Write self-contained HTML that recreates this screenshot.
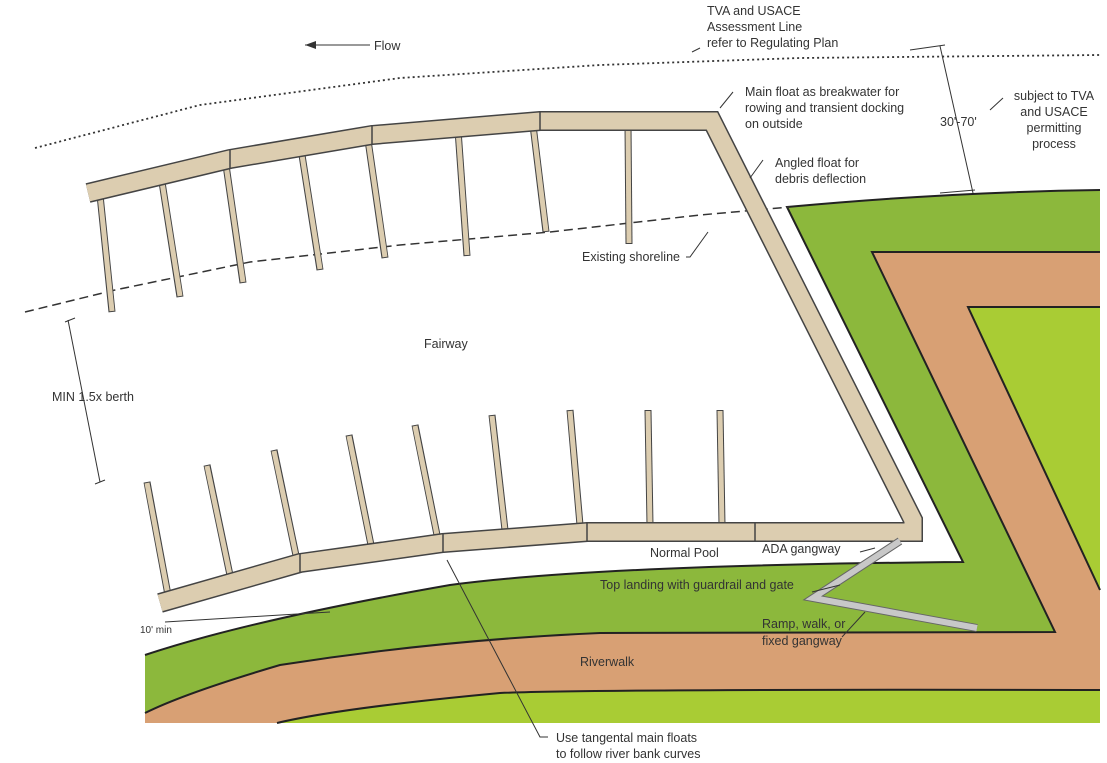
<!DOCTYPE html>
<html><head><meta charset="utf-8"><style>
html,body{margin:0;padding:0;background:#fff}
svg{display:block}
text{font-family:"Liberation Sans",sans-serif;font-size:12.5px;fill:#333}
</style></head><body>
<svg width="1107" height="763" viewBox="0 0 1107 763">
<!-- land fills -->
<path d="M787,207 Q950,192 1100,190 L1100,723 L145,723 L145,655 Q250,620 450,585 Q600,565 963,562 Z" fill="#8cb83c"/>
<path d="M872,252 L1100,252 L1100,723 L145,723 L145,713 Q185,693 280,665 Q440,640 600,633 L1055,632 Z" fill="#d8a074"/>
<path d="M968,307 L1100,307 L1100,590 Z" fill="#a9cc34"/>
<path d="M277,723 Q340,708 500,693 Q600,689 1100,690 L1100,723 Z" fill="#a9cc34"/>
<!-- land edges -->
<g fill="none" stroke="#222" stroke-width="2">
<path d="M1100,190 Q950,192 787,207 L963,562 Q600,565 450,585 Q250,620 145,655"/>
<path d="M1100,252 L872,252 L1055,632 L600,633 Q440,640 280,665 Q185,693 145,713"/>
<path d="M1100,307 L968,307 L1100,590"/>
<path d="M277,723 Q340,708 500,693 Q600,689 1100,690"/>
</g>
<rect x="0" y="724" width="1107" height="40" fill="#fff"/>
<!-- shorelines -->
<polyline points="35,148 200,105 400,78 600,65 800,58 1100,55" fill="none" stroke="#333" stroke-width="1.8" stroke-dasharray="2,3"/>
<polyline points="25,312 115,290 250,262 400,245 550,232 700,215 790,207" fill="none" stroke="#333" stroke-width="1.5" stroke-dasharray="9,5"/>
<!-- fingers -->
<g stroke="#444" stroke-width="7" stroke-linecap="butt">
<line x1="100" y1="195" x2="112" y2="312"/><line x1="162" y1="182" x2="180" y2="297"/><line x1="226" y1="165" x2="243" y2="283"/>
<line x1="302" y1="155" x2="320" y2="270"/><line x1="368" y1="140" x2="385" y2="258"/><line x1="458" y1="130" x2="467" y2="256"/>
<line x1="533" y1="125" x2="546" y2="232"/><line x1="628" y1="125" x2="629" y2="244"/>
<line x1="147" y1="482" x2="168" y2="595"/><line x1="207" y1="465" x2="231" y2="580"/><line x1="274" y1="450" x2="298" y2="565"/>
<line x1="349" y1="435" x2="372" y2="550"/><line x1="415" y1="425" x2="438" y2="540"/><line x1="492" y1="415" x2="505" y2="530"/>
<line x1="570" y1="410" x2="580" y2="525"/><line x1="648" y1="410" x2="650" y2="525"/><line x1="720" y1="410" x2="722" y2="525"/>
</g>
<g stroke="#dccdb0" stroke-width="5">
<line x1="100" y1="195" x2="112" y2="311"/><line x1="162" y1="182" x2="180" y2="296"/><line x1="226" y1="165" x2="243" y2="282"/>
<line x1="302" y1="155" x2="320" y2="269"/><line x1="368" y1="140" x2="385" y2="257"/><line x1="458" y1="130" x2="467" y2="255"/>
<line x1="533" y1="125" x2="546" y2="231"/><line x1="628" y1="125" x2="629" y2="243"/>
<line x1="147" y1="483" x2="168" y2="595"/><line x1="207" y1="466" x2="231" y2="580"/><line x1="274" y1="451" x2="298" y2="565"/>
<line x1="349" y1="436" x2="372" y2="550"/><line x1="415" y1="426" x2="438" y2="540"/><line x1="492" y1="416" x2="505" y2="530"/>
<line x1="570" y1="411" x2="580" y2="525"/><line x1="648" y1="411" x2="650" y2="525"/><line x1="720" y1="411" x2="722" y2="525"/>
</g>
<!-- main floats -->
<polyline points="88,193 230,159 372,135 540,121 712,121 913,520 913,532 587,532 443,543 300,563 160,603" fill="none" stroke="#444" stroke-width="20" stroke-linejoin="miter"/>
<polyline points="88,193 230,159 372,135 540,121 712,121 913,520 913,532 587,532 443,543 300,563 160,603" fill="none" stroke="#dccdb0" stroke-width="17" stroke-linejoin="miter"/>
<g stroke="#444" stroke-width="1.5"><line x1="230" y1="149" x2="230" y2="169"/><line x1="372" y1="125" x2="372" y2="145"/><line x1="540" y1="111" x2="540" y2="131"/><line x1="587" y1="522" x2="587" y2="542"/><line x1="755" y1="522" x2="755" y2="542"/><line x1="443" y1="533" x2="443" y2="553"/><line x1="300" y1="553" x2="300" y2="573"/></g>
<!-- gangway -->
<polyline points="900,541 813,598 977,628" fill="none" stroke="#666" stroke-width="8" stroke-linejoin="miter"/>
<polyline points="900,541 813,598 977,628" fill="none" stroke="#c8c8c8" stroke-width="6" stroke-linejoin="miter"/>
<!-- leader lines -->
<g stroke="#333" stroke-width="1" fill="none">
<line x1="305" y1="45" x2="370" y2="45"/>
<path d="M700,48 L692,52"/><path d="M733,92 L720,108"/><path d="M763,160 L750,178"/><path d="M1003,98 L990,110"/>
<path d="M708,232 L690,257 L686,257"/>
<line x1="940" y1="46" x2="973" y2="193"/><line x1="910" y1="50" x2="945" y2="45"/><line x1="940" y1="193" x2="975" y2="190"/>
<line x1="68" y1="320" x2="100" y2="482"/><line x1="65" y1="322" x2="75" y2="318"/><line x1="95" y1="484" x2="105" y2="480"/>
<line x1="165" y1="622" x2="330" y2="612"/>
<path d="M447,560 L540,737 L548,737"/>
<path d="M875,548 L860,552"/><path d="M840,585 L812,592"/><path d="M842,637 L865,612"/>
</g>
<polygon points="305,45 316,41 316,49" fill="#333"/>
<!-- labels -->
<text x="374" y="50">Flow</text>
<text x="707" y="15">TVA and USACE</text>
<text x="707" y="31">Assessment Line</text>
<text x="707" y="47">refer to Regulating Plan</text>
<text x="745" y="96">Main float as breakwater for</text>
<text x="745" y="112">rowing and transient docking</text>
<text x="745" y="128">on outside</text>
<text x="775" y="167">Angled float for</text>
<text x="775" y="183">debris deflection</text>
<text x="940" y="126">30'-70'</text>
<text x="1054" y="100" text-anchor="middle">subject to TVA</text>
<text x="1054" y="116" text-anchor="middle">and USACE</text>
<text x="1054" y="132" text-anchor="middle">permitting</text>
<text x="1054" y="148" text-anchor="middle">process</text>
<text x="582" y="261">Existing shoreline</text>
<text x="424" y="348">Fairway</text>
<text x="52" y="401">MIN 1.5x berth</text>
<text x="650" y="557">Normal Pool</text>
<text x="762" y="553">ADA gangway</text>
<text x="600" y="589">Top landing with guardrail and gate</text>
<text x="762" y="628">Ramp, walk, or</text>
<text x="762" y="645">fixed gangway</text>
<text x="580" y="666">Riverwalk</text>
<text x="140" y="633" style="font-size:10px">10' min</text>
<text x="556" y="742">Use tangental main floats</text>
<text x="556" y="758">to follow river bank curves</text>
</svg>
</body></html>
